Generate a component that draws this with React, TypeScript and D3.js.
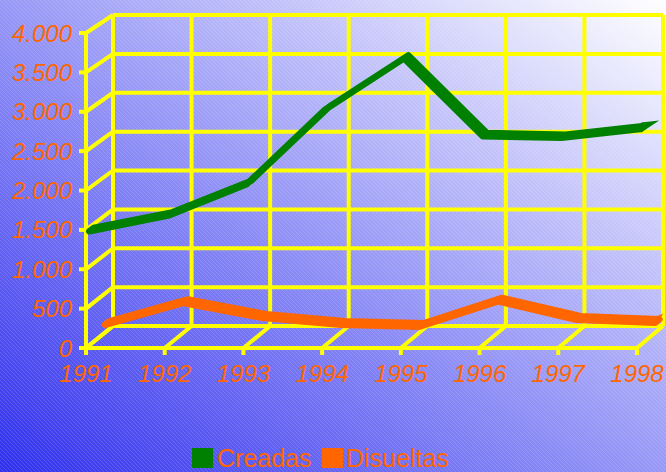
import React from "react";
import * as d3 from "d3";

const years = ["1991", "1992", "1993", "1994", "1995", "1996", "1997", "1998"];
const creadas = [1450, 1650, 2050, 3000, 3650, 2660, 2640, 2750];
const disueltas = [100, 380, 190, 100, 75, 400, 165, 125];
const yTicks = [0, 500, 1000, 1500, 2000, 2500, 3000, 3500, 4000];
const seriesNames = ["Creadas", "Disueltas"];

const W = 666;
const H = 472;
const GREEN = "#008000";
const ORANGE = "#FF6600";
const YELLOW = "#FFFF00";
const FONT = "'Liberation Sans', Arial, Helvetica, sans-serif";

// front plane and back plane scales (pseudo 3D)
const fx = d3.scalePoint<string>().domain(years).range([86, 637]);
const bx = d3.scalePoint<string>().domain(years).range([113, 663]);
const fy = d3.scaleLinear().domain([0, 4000]).range([348, 33]);
const by = d3.scaleLinear().domain([0, 4000]).range([326, 15]);

function proj(cat: string, v: number, d: number): [number, number] {
  const x = (fx(cat) as number) * (1 - d) + (bx(cat) as number) * d;
  const y = fy(v) * (1 - d) + by(v) * d;
  return [x, y];
}

function ribbonPath(values: number[], depth: number, half: number): string {
  const front = values.map((v, i) => proj(years[i], v, depth - half));
  const back = values.map((v, i) => proj(years[i], v, depth + half)).reverse();
  return (d3.line()([...front, ...back]) as string) + "Z";
}

function capPath(values: number[], depth: number, cx: number, cy: number, w: number): string {
  const n = values.length - 1;
  const [x, y] = proj(years[n], values[n], depth);
  const pts: [number, number][] = [
    [x - 1, y + w],
    [x - 1, y - w],
    [x + cx, y - w + cy],
  ];
  return (d3.line()(pts) as string) + "Z";
}

export default function App() {
  const fmt = (v: number) => d3.format(",")(v).replace(/,/g, ".");
  const gridW = 4;
  const y0 = fy(0);
  return (
    <div style={{ position: "absolute", left: 0, top: 0 }}>
      <svg width={W} height={H} style={{ display: "block" }}>
        <defs>
          <linearGradient id="bg" x1="0" y1="1" x2="1" y2="0">
            <stop offset="0" stopColor="#3030ee" />
            <stop offset="1" stopColor="#ffffff" />
          </linearGradient>
          <pattern id="hatch" width="4" height="4" patternUnits="userSpaceOnUse">
            <path d="M-1,-1 L5,5" stroke="#ffffff" strokeOpacity="0.18" strokeWidth="0.8" />
          </pattern>
        </defs>
        <rect x={0} y={0} width={W} height={H} fill="url(#bg)" />
        <rect x={0} y={0} width={W} height={H} fill="url(#hatch)" />

        <g stroke={YELLOW} strokeWidth={gridW} fill="none">
          {yTicks.map((t) => (
            <line key={"bh" + t} x1={bx(years[0])} x2={bx(years[years.length - 1])} y1={by(t)} y2={by(t)} />
          ))}
          {years.map((c) => (
            <line key={"bv" + c} x1={bx(c)} x2={bx(c)} y1={by(0)} y2={by(4000)} />
          ))}
          {yTicks.map((t) => (
            <line key={"ld" + t} x1={fx(years[0])} y1={fy(t)} x2={bx(years[0])} y2={by(t)} />
          ))}
          {years.map((c) => (
            <line key={"fd" + c} x1={fx(c)} y1={y0} x2={bx(c)} y2={by(0)} />
          ))}
          <line x1={fx(years[0])} x2={fx(years[0])} y1={fy(0) + 2} y2={fy(4000)} />
          <line x1={(fx(years[0]) as number) - 2} x2={fx(years[years.length - 1])} y1={y0} y2={y0} />
          {yTicks.map((t) => (
            <line key={"yt" + t} x1={(fx(years[0]) as number) - 7} x2={fx(years[0])} y1={fy(t)} y2={fy(t)} />
          ))}
          {years.map((c) => (
            <line key={"xt" + c} x1={fx(c)} x2={fx(c)} y1={y0} y2={y0 + 7} />
          ))}
        </g>

        {/* series ribbons */}
        <path d={ribbonPath(disueltas, 0.78, 0.08)} fill={ORANGE} stroke={ORANGE} strokeWidth={6.5} strokeLinejoin="round" />
        <path d={capPath(disueltas, 0.78, 6, -3, 4.5)} fill={ORANGE} />
        <path d={ribbonPath(creadas, 0.2, 0.08)} fill={GREEN} stroke={GREEN} strokeWidth={6.5} strokeLinejoin="round" />
        <path d={capPath(creadas, 0.2, 17, -2, 5)} fill={GREEN} />

        <g fill={ORANGE} fontFamily={FONT} fontStyle="italic" fontSize={24} textAnchor="end">
          {yTicks.map((t) => (
            <text key={"yl" + t} x={72} y={fy(t) + 8.5}>
              {fmt(t)}
            </text>
          ))}
        </g>
        <g fill={ORANGE} fontFamily={FONT} fontStyle="italic" fontSize={24} textAnchor="middle">
          {years.map((c) => (
            <text key={"xl" + c} x={fx(c)} y={382}>
              {c}
            </text>
          ))}
        </g>

        <g fontFamily={FONT} fontSize={25} fill={ORANGE}>
          <rect x={192} y={448} width={21} height={20} fill={GREEN} />
          <text x={217} y={467}>{seriesNames[0]}</text>
          <rect x={322} y={448} width={21} height={20} fill={ORANGE} />
          <text x={346} y={467}>{seriesNames[1]}</text>
        </g>
      </svg>
    </div>
  );
}
